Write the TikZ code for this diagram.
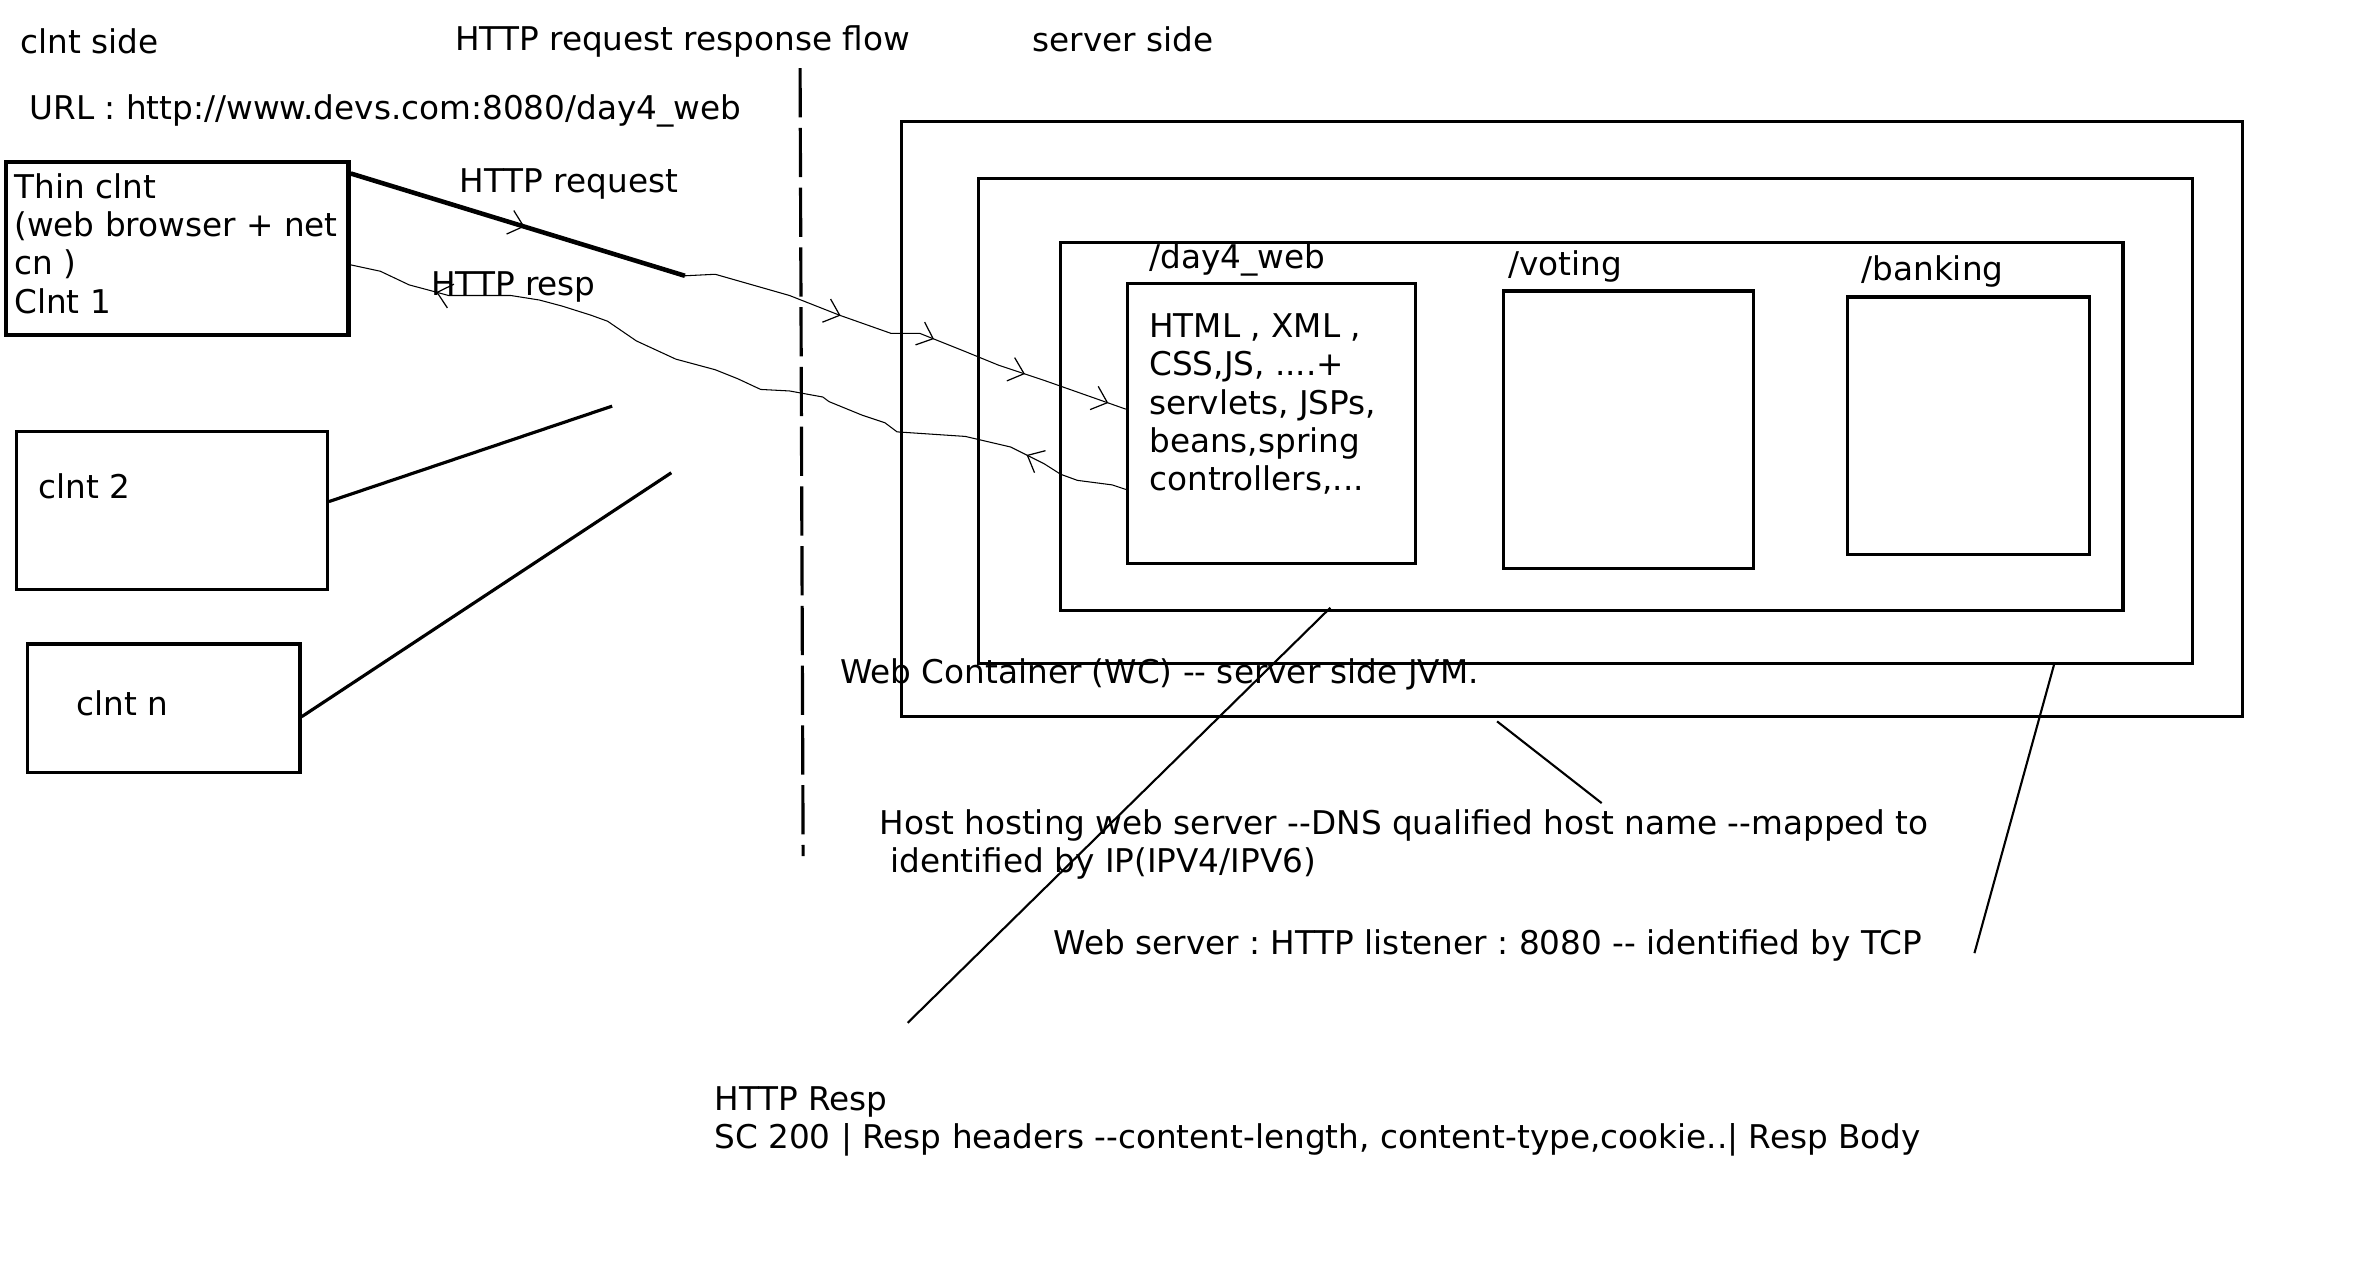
\documentclass[tikz,border=0pt]{standalone}
\usepackage{fontspec}
\setmainfont[Ligatures=TeXOff]{DejaVu Sans}
\usepackage{tikz}
\usetikzlibrary{arrows.meta,positioning,calc,fit,decorations.markings}
\frenchspacing
\tikzstyle{box} = [draw, inner sep=0pt, line width=0.9pt]
\tikzstyle{lbl} = [inner sep=0pt, anchor=base west, font=\fontsize{9.3}{10.9}\selectfont]
\tikzstyle{para} = [inner sep=0pt, anchor=north west, align=left, font=\fontsize{9.3}{10.9}\selectfont]
\tikzstyle{link} = [line width=0.9pt]
\tikzstyle{note} = [line width=0.6pt]
\tikzstyle{wavy} = [line width=0.3pt, line join=round]
\tikzset{barb/.tip={Straight Barb[length=4pt,width=7pt,line width=0.35pt]}}

\begin{document}
\begin{tikzpicture}[x=0.015153cm, y=-0.015153cm]
\useasboundingbox (0,0) rectangle (1568,839.4);

% headings
\node[lbl] (clside) at (13,35) {clnt side};
\node[lbl] (flow) at (300,33) {HTTP request response flow};
\node[lbl] (svside) at (681,34) {server side};
\node[lbl] (url) at (19,79) {URL : http://www.devs.com:8080/day4\_web};

% split between client and server
\draw[line width=0.9pt, dash pattern=on 14pt off 3pt] (528,45) -- (530,565);

% clients
\node[box, line width=1.3pt, fit={(4,107) (230,221)}] (thin) {};
\node[para] (thintxt) at (9,114) {Thin clnt\\(web browser + net\\cn )\\Clnt 1};
\node[box, fit={(11,285) (216,389)}] (clnttwo) {};
\node[lbl] at (25,329) {clnt 2};
\node[box, fit={(18,425) (198,510)}] (clntn) {};
\node[lbl] at (50,472) {clnt n};

% server side boxes
\node[box, fit={(595,80) (1480,473)}] (host) {};
\node[box, fit={(646,118) (1447,438)}] (wc) {};
\node[box, fit={(700,160) (1401,403)}] (ctx) {};
\node[box, fit={(744,187) (934,372)}] (day4) {};
\node[box, fit={(992,192) (1157,375)}] (voting) {};
\node[box, fit={(1219,196) (1379,366)}] (banking) {};
\node[lbl] at (758,177) {/day4\_web};
\node[lbl] at (995,182) {/voting};
\node[lbl] at (1228,185) {/banking};
\node[para] (day4txt) at (758,206.5) {HTML , XML ,\\CSS,JS, ....+\\servlets, JSPs,\\beans,spring\\controllers,...};

% request / response
\node[lbl] (reqlbl) at (303,127) {HTTP request};
\node[lbl] (resplbl) at (284,195) {HTTP resp};
\coordinate (reqend) at (452,182);
\draw[line width=1.3pt, decoration={markings, mark=at position 0.52 with {\arrow{barb}}}, postaction={decorate}]
  ($(thin.north east)+(0,9)$) -- (reqend);
\draw[wavy, decoration={markings,
    mark=at position 0.35 with {\arrow{barb}},
    mark=at position 0.56 with {\arrow{barb}},
    mark=at position 0.77 with {\arrow{barb}},
    mark=at position 0.96 with {\arrow{barb}}}, postaction={decorate}]
  (reqend) -- (472,181) -- (521,195) -- (554,208) -- (588,220) -- (607,220)
  -- (637,232) -- (659,241) -- (689,251) -- ($(day4.west)+(0,-9.5)$);
\draw[wavy, decoration={markings,
    mark=at position 0.13 with {\arrow{barb}},
    mark=at position 0.89 with {\arrow{barb}}}, postaction={decorate}]
  ($(day4.west)+(0,43.5)$) -- (734,320) -- (711,317) -- (700,313) -- (689,306)
  -- (667,295) -- (637,288) -- (592,285) -- (584,279) -- (569,274) -- (547,265)
  -- (543,262) -- (521,258) -- (502,257) -- (487,250) -- (472,244) -- (446,237)
  -- (420,225) -- (401,212) -- (390,208) -- (371,202) -- (356,198) -- (337,195)
  -- (296,195) -- (285,192) -- (270,188) -- (251,179) -- ($(thin.east)+(0,10.8)$);

% other clients
\coordinate (twoend) at (404,268);
\coordinate (nend) at (443,312);
\draw[link] ($(clnttwo.east)+(0,-6)$) -- (twoend);
\draw[link] ($(clntn.east)+(0,5.5)$) -- (nend);

% notes
\node[lbl] (wctxt) at (554,451) {Web Container (WC) -- server side JVM.};
\node[lbl] (hosttxt) at (580,551) {Host hosting web server --DNS qualified host name --mapped to};
\node[lbl] (iptxt) at (587,576) {identified by IP(IPV4/IPV6)};
\node[lbl] (tcptxt) at (695,630) {Web server : HTTP listener : 8080 -- identified by TCP};
\node[lbl] (resphead) at (471,733) {HTTP Resp};
\node[lbl] (respbody) at (471,758) {SC 200 | Resp headers --content-length, content-type,cookie..| Resp Body};

\coordinate (resptip) at (599,675);
\coordinate (hosttip) at (1057,530);
\coordinate (wctip) at (1303,629);
\draw[note] ($(ctx.south west)+(179,-3)$) -- (resptip);
\draw[note] ($(host.south west)+(394,2)$) -- (hosttip);
\draw[note] ($(wc.south west)+(711,-2)$) -- (wctip);
\end{tikzpicture}
\end{document}
